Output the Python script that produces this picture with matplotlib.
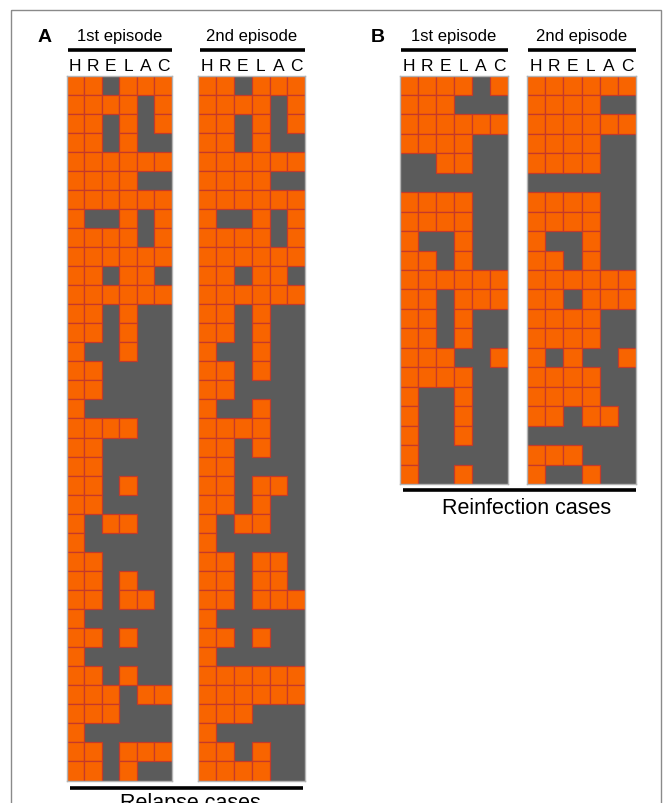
import numpy as np
import matplotlib
matplotlib.use("Agg")
import matplotlib.pyplot as plt
from matplotlib.patches import Rectangle

plt.rcParams['font.family'] = ['Liberation Sans', 'DejaVu Sans']

drugs = ["H", "R", "E", "L", "A", "C"]

# Resistance profiles per isolate (1 = resistant), columns follow `drugs`
relapse_first = [
    "110111", "111101", "110101", "110100", "111111", "111100",
    "111111", "100101", "111101", "111111", "110110", "111111",
    "110100", "110100", "100100", "110000", "110000", "100000",
    "111100", "110000", "110000", "110100", "110000", "101100",
    "100000", "110000", "110100", "110110", "100000", "110100",
    "100000", "110100", "111011", "111000", "100000", "110111",
    "110100",
]
relapse_second = [
    "110111", "111101", "110101", "110100", "111111", "111100",
    "111111", "100101", "111101", "111111", "110110", "111111",
    "110100", "110100", "100100", "110100", "110000", "100100",
    "111100", "110100", "110000", "110110", "110100", "101100",
    "100000", "110110", "110110", "110111", "100000", "110100",
    "100000", "111111", "111111", "111000", "100000", "110100",
    "111100",
]
reinfection_first = [
    "111101", "111000", "111111", "111100", "001100", "000000",
    "111100", "111100", "100100", "110100", "111111", "110111",
    "110100", "110100", "111001", "111100", "100100", "100100",
    "100100", "100000", "100100",
]
reinfection_second = [
    "111111", "111100", "111111", "111100", "111100", "000000",
    "111100", "111100", "100100", "110100", "111111", "110111",
    "111100", "111100", "101001", "111100", "111100", "110110",
    "000000", "111000", "100100",
]

ORANGE = "#f86400"
EDGE = "#c43a2a"
GRAY = "#5b5b5b"

W, H = 670, 804
fig = plt.figure(figsize=(W / 100, H / 100), dpi=100)

# overlay axes in pixel coordinates for frame, headers and rules
ov = fig.add_axes([0, 0, 1, 1])
ov.set_xlim(0, W)
ov.set_ylim(H, 0)
ov.axis("off")
ov.set_zorder(5)
ov.patch.set_alpha(0)
ov.add_patch(Rectangle((10.5, 10.5), 650, 820, fill=False, edgecolor="#8a8a8a", lw=1.0))


def grid_axes(box, rows):
    x0, y0, x1, y1 = box
    ax = fig.add_axes([x0 / W, 1 - y1 / H, (x1 - x0) / W, (y1 - y0) / H])
    mat = np.array([[int(c) for c in r] for r in rows])
    n, m = mat.shape
    ax.set_xlim(0, m)
    ax.set_ylim(n, 0)
    ax.set_facecolor(GRAY)
    for s in ax.spines.values():
        s.set_color("#b4b4b4")
        s.set_linewidth(1.0)
    ax.set_xticks([])
    ax.set_yticks([])
    for i in range(n):
        for j in range(m):
            if mat[i, j]:
                ax.add_patch(Rectangle((j, i), 1, 1, facecolor=ORANGE,
                                       edgecolor=EDGE, lw=0.9))
    return ax


def header(box, title):
    x0, y0, x1, y1 = box
    cx = (x0 + x1) / 2
    ov.text(cx, 37, title, ha="center", va="center", fontsize=12)
    ov.plot([x0 + 1, x1], [50.5, 50.5], color="black", lw=2.6, solid_capstyle="butt")
    cw = (x1 - x0) / len(drugs)
    for k, d in enumerate(drugs):
        ov.text(x0 + cw * (k + 0.5), 66.5, d, ha="center", va="center", fontsize=12.5)


boxes = {
    "A1": (66.5, 76.5, 172, 781.5),
    "A2": (198.5, 76.5, 305, 781.5),
    "B1": (400, 76.5, 508, 485),
    "B2": (527, 76.5, 636, 485),
}

grid_axes(boxes["A1"], relapse_first)
grid_axes(boxes["A2"], relapse_second)
grid_axes(boxes["B1"], reinfection_first)
grid_axes(boxes["B2"], reinfection_second)

header(boxes["A1"], "1st episode")
header(boxes["A2"], "2nd episode")
header(boxes["B1"], "1st episode")
header(boxes["B2"], "2nd episode")

ov.text(45, 37, "A", ha="center", va="center", fontsize=14, fontweight="bold")
ov.text(378, 37, "B", ha="center", va="center", fontsize=14, fontweight="bold")

ov.plot([70, 303], [788.5, 788.5], color="black", lw=2.6, solid_capstyle="butt")
ov.text(190, 804, "Relapse cases", ha="center", va="center", fontsize=15.5)
ov.plot([403, 636], [490.5, 490.5], color="black", lw=2.6, solid_capstyle="butt")
ov.text(527, 508, "Reinfection cases", ha="center", va="center", fontsize=15.5)

fig.savefig("out.png", dpi=100)
